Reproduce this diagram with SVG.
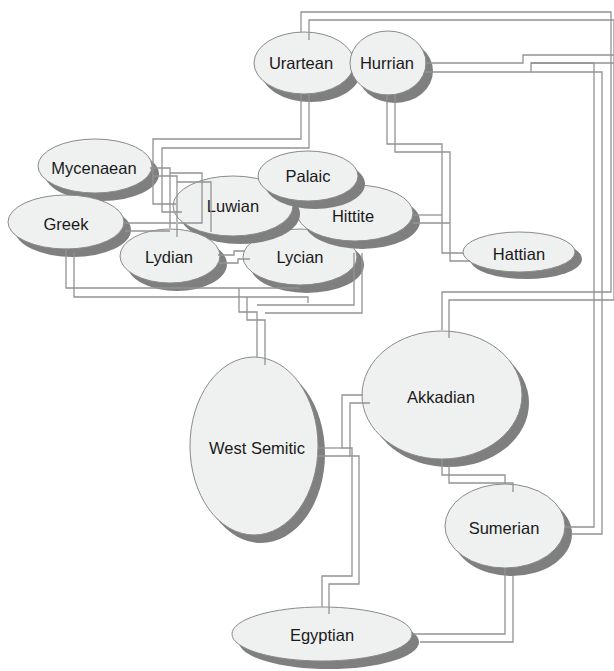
<svg xmlns="http://www.w3.org/2000/svg" width="614" height="671" viewBox="0 0 614 671">
<style>
.sh{fill:#7f7f7f}
.nd{fill:#eff0f0;stroke:#8a8a8a;stroke-width:1}
.lb{font-family:"Liberation Sans",Arial,sans-serif;font-size:16.5px;fill:#1a1a1a;text-anchor:middle}
.c{fill:none;stroke:#939393;stroke-width:1.3}
</style>
<rect width="614" height="671" fill="#fff"/>
<g id="Mycenaean"><ellipse class="sh" cx="102" cy="174" rx="57" ry="27"/><ellipse class="nd" cx="95" cy="166" rx="57" ry="27"/><text class="lb" x="94" y="174">Mycenaean</text></g>
<g id="Greek"><ellipse class="sh" cx="73" cy="230" rx="58" ry="27"/><ellipse class="nd" cx="66" cy="222" rx="58" ry="27"/><text class="lb" x="66" y="230">Greek</text></g>
<g id="Lycian"><ellipse class="sh" cx="307" cy="265" rx="57" ry="28"/><ellipse class="nd" cx="300" cy="257" rx="57" ry="28"/><text class="lb" x="300" y="263">Lycian</text></g>
<g id="Hittite"><ellipse class="sh" cx="362" cy="221" rx="58" ry="28"/><ellipse class="nd" cx="355" cy="213" rx="58" ry="28"/><text class="lb" x="353" y="222">Hittite</text></g>
<g id="Luwian"><ellipse class="sh" cx="240" cy="214" rx="60" ry="30"/><ellipse class="nd" cx="233" cy="206" rx="60" ry="30"/><text class="lb" x="233" y="212">Luwian</text></g>
<g id="Palaic"><ellipse class="sh" cx="315" cy="184" rx="50" ry="25"/><ellipse class="nd" cx="308" cy="176" rx="50" ry="25"/><text class="lb" x="308" y="182">Palaic</text></g>
<g id="Lydian"><ellipse class="sh" cx="177" cy="264" rx="50" ry="27"/><ellipse class="nd" cx="170" cy="256" rx="50" ry="27"/><text class="lb" x="169" y="263">Lydian</text></g>
<g id="Urartean"><ellipse class="sh" cx="311" cy="71" rx="50" ry="31"/><ellipse class="nd" cx="304" cy="63" rx="50" ry="31"/><text class="lb" x="301" y="69">Urartean</text></g>
<g id="Hurrian"><ellipse class="sh" cx="395" cy="71" rx="38" ry="32"/><ellipse class="nd" cx="388" cy="63" rx="38" ry="32"/><text class="lb" x="387" y="69">Hurrian</text></g>
<g id="Hattian"><ellipse class="sh" cx="526" cy="259" rx="56" ry="20"/><ellipse class="nd" cx="519" cy="252" rx="56" ry="20"/><text class="lb" x="519" y="260">Hattian</text></g>
<g id="WestSemitic"><ellipse class="sh" cx="261" cy="454" rx="64" ry="89"/><ellipse class="nd" cx="254" cy="446" rx="64" ry="89"/><text class="lb" x="257" y="454">West Semitic</text></g>
<g id="Akkadian"><ellipse class="sh" cx="449" cy="403" rx="80" ry="64"/><ellipse class="nd" cx="442" cy="395" rx="80" ry="64"/><text class="lb" x="441" y="403">Akkadian</text></g>
<g id="Sumerian"><ellipse class="sh" cx="512" cy="534" rx="60" ry="42"/><ellipse class="nd" cx="505" cy="526" rx="60" ry="42"/><text class="lb" x="504" y="534">Sumerian</text></g>
<g id="Egyptian"><ellipse class="sh" cx="329" cy="642" rx="90" ry="27"/><ellipse class="nd" cx="322" cy="634" rx="90" ry="27"/><text class="lb" x="322" y="641">Egyptian</text></g>
<g id="connectors">
<!-- Urartean - Akkadian -->
<path class="c" d="M301,32 V12 H611 V292 H442 V330"/>
<path class="c" d="M309,40 V20 H614 V300 H449 V338"/>
<!-- Hurrian - Sumerian -->
<path class="c" d="M425,63 H523 V55 H614"/>
<path class="c" d="M425,72 H531 V63 H594 V527 H565"/>
<path class="c" d="M531,63 H614"/>
<path class="c" d="M531,72 H602 V534 H571"/>
<!-- Hurrian - Hattian -->
<path class="c" d="M387,94 V144 H442 V253 H463"/>
<path class="c" d="M395,95 V152 H450 V261 H470"/>
<!-- Hittite - Hattian -->
<path class="c" d="M413,215 H442"/>
<path class="c" d="M413,223 H450"/>
<!-- Urartean - Luwian -->
<path class="c" d="M301,94 V139 H153 V204 H176"/>
<path class="c" d="M309,94 V148 H162 V212 H182"/>
<!-- Mycenaean tangle -->
<path class="c" d="M150,168 H170 V228"/>
<path class="c" d="M170,173 H202 V223 H178"/>
<path class="c" d="M152,176 H177 V237"/>
<path class="c" d="M177,182 H211 V232"/>
<!-- Greek - Luwian/Lydian -->
<path class="c" d="M123,223 H176"/>
<path class="c" d="M125,231 H170"/>
<!-- Lydian - Lycian -->
<path class="c" d="M218,255 H234 V251 H245"/>
<path class="c" d="M219,263 H238 V259 H250"/>
<!-- Greek - West Semitic / Lycian -->
<path class="c" d="M66,248 V288 H300"/>
<path class="c" d="M74,252 V297 H308 V303"/>
<path class="c" d="M239,288 V312 H257 V357"/>
<path class="c" d="M247,297 V320 H265 V365"/>
<!-- Lycian - West Semitic / Akkadian -->
<path class="c" d="M354,253 V292"/>
<path class="c" d="M354,292 V305 H257"/>
<path class="c" d="M362,253 V313 H265"/>
<!-- Akkadian - Egyptian / West Semitic -->
<path class="c" d="M363,395 H342 V448 H352 V576 H322 V607"/>
<path class="c" d="M370,403 H350 V456 H359 V584 H329 V614"/>
<path class="c" d="M318,448 H342"/>
<path class="c" d="M317,456 H350"/>
<!-- Akkadian - Sumerian -->
<path class="c" d="M442,459 V475 H505 V484"/>
<path class="c" d="M449,465 V483 H513 V492"/>
<!-- Sumerian - Egyptian -->
<path class="c" d="M505,568 V634 H413"/>
<path class="c" d="M513,576 V642 H420"/>
</g>
</svg>
